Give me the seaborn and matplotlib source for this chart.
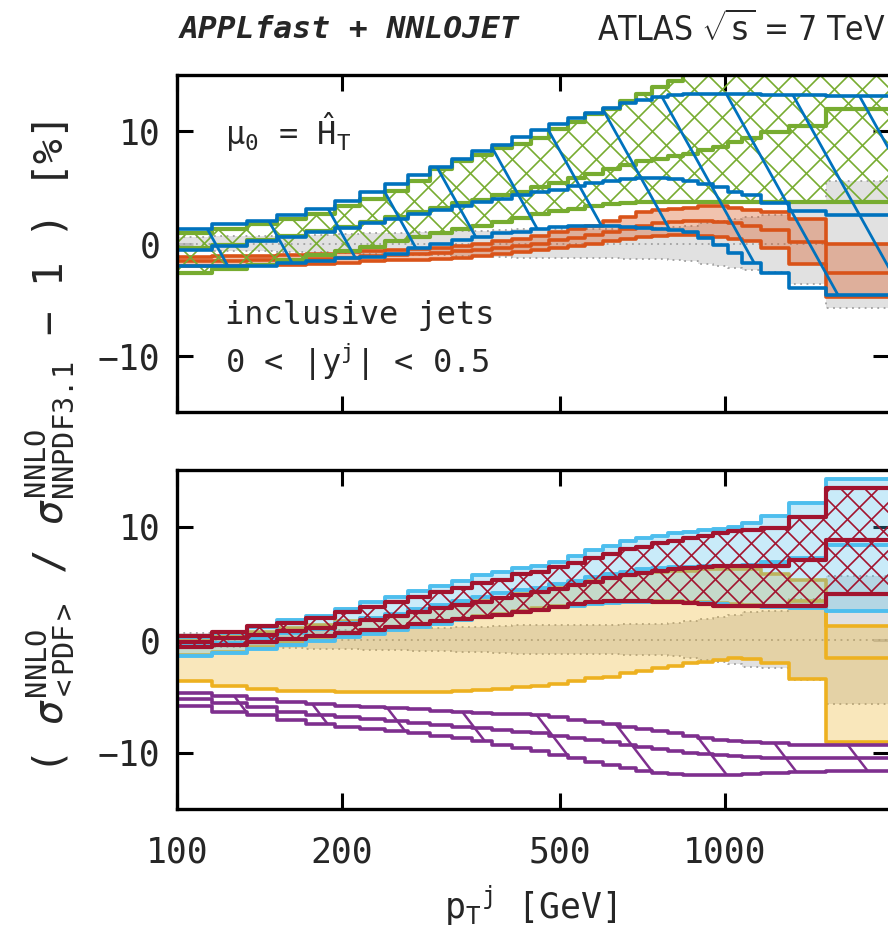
import numpy as np
import matplotlib
matplotlib.use("Agg")
import matplotlib.pyplot as plt
from matplotlib.collections import LineCollection
from matplotlib.ticker import NullLocator, FixedLocator, FixedFormatter
import seaborn as sns

# ---------------- data ----------------
edges = [100, 116, 134, 152, 172, 194, 216, 240, 264, 290, 318, 346, 376, 408, 442,
         478, 516, 556, 598, 642, 688, 736, 786, 838, 894, 952, 1012, 1076, 1162,
         1310, 1530, 1992]

# reference NNPDF3.1 band (both panels)
nnpdf_up = [0.6, 0.65, 0.7, 0.75, 0.8, 0.85, 0.9, 0.95, 1.0, 1.05, 1.1, 1.15, 1.2, 1.25, 1.3,
            1.3, 1.3, 1.3, 1.3, 1.35, 1.35, 1.4, 1.45, 1.6, 1.8, 2.0, 2.2, 2.4, 2.5, 3.6, 5.6]
nnpdf_dn = [-0.6, -0.65, -0.7, -0.75, -0.8, -0.85, -0.9, -0.95, -1.0, -1.05, -1.1, -1.15, -1.2,
            -1.25, -1.3, -1.3, -1.3, -1.3, -1.3, -1.35, -1.35, -1.4, -1.45, -1.6, -1.8, -2.0,
            -2.2, -2.4, -2.5, -3.6, -5.7]
nnpdf_mid = [0.0] * 31

# top panel
top_orange_up = [-1.2, -1.15, -1.1, -1.0, -0.9, -0.8, -0.7, -0.6, -0.5, -0.4, -0.2, 0.0, 0.2, 0.4,
                 0.7, 1.0, 1.3, 1.6, 2.0, 2.4, 2.8, 3.0, 3.1, 3.2, 3.3, 3.3, 3.2, 3.0, 2.8, 2.2, 0.0]
top_orange_mid = [-1.6, -1.55, -1.5, -1.45, -1.35, -1.25, -1.15, -1.05, -0.95, -0.85, -0.7, -0.55,
                  -0.4, -0.2, 0.0, 0.3, 0.5, 0.8, 1.0, 1.3, 1.6, 1.8, 1.9, 2.0, 2.0, 1.9, 1.8, 1.6,
                  1.2, 0.1, -2.6]
top_orange_dn = [-2.0, -2.0, -1.95, -1.9, -1.8, -1.7, -1.6, -1.5, -1.45, -1.35, -1.25, -1.1, -0.95,
                 -0.8, -0.6, -0.4, -0.2, 0.0, 0.2, 0.4, 0.6, 0.7, 0.75, 0.75, 0.7, 0.6, 0.4, 0.2,
                 -0.4, -1.8, -4.8]

top_blue_up = [1.3, 1.7, 2.0, 2.5, 3.1, 3.8, 4.6, 5.3, 6.1, 6.8, 7.5, 8.2, 8.8, 9.5, 10.1, 10.6,
               11.2, 11.6, 12.1, 12.5, 12.8, 13.0, 13.2, 13.3, 13.35, 13.35, 13.3, 13.3, 13.2,
               13.2, 13.1]
top_blue_mid = [-0.6, -0.2, 0.2, 0.6, 1.0, 1.4, 1.8, 2.2, 2.6, 3.0, 3.3, 3.7, 4.0, 4.3, 4.6, 4.8,
                5.1, 5.4, 5.6, 5.7, 5.8, 5.8, 5.7, 5.6, 5.3, 5.0, 4.6, 4.3, 3.6, 2.9, 2.5]
top_blue_dn = [-2.0, -2.0, -2.0, -1.7, -1.6, -1.3, -1.2, -0.9, -0.4, 0.0, 0.3, 0.6, 0.9, 1.05, 1.3,
               1.5, 1.55, 1.6, 1.6, 1.5, 1.4, 1.3, 1.2, 1.05, 0.5, -0.1, -0.85, -1.7, -2.6, -3.95,
               -4.6]

top_green_up = [0.9, 1.3, 1.7, 2.2, 2.6, 3.3, 4.0, 4.7, 5.6, 6.6, 7.3, 7.9, 8.5, 8.9, 9.4, 10.2,
                10.8, 11.5, 12.0, 12.7, 13.3, 13.9, 14.5, 15.3, 15.8, 16.2, 16.5, 16.8, 17.0,
                17.0, 17.0]
top_green_mid = [-0.4, -0.1, 0.3, 0.7, 1.1, 1.5, 1.9, 2.4, 2.8, 3.2, 3.6, 3.9, 4.3, 4.6, 5.0, 5.4,
                 5.8, 6.2, 6.6, 7.0, 7.3, 7.5, 7.8, 8.0, 8.3, 8.6, 9.0, 9.4, 9.9, 10.5, 12.0]
top_green_dn = [-2.6, -2.3, -1.9, -1.5, -1.0, -0.7, -0.3, 0.2, 0.6, 0.9, 1.3, 1.6, 1.9, 2.3, 2.6,
                2.9, 3.1, 3.3, 3.5, 3.6, 3.7, 3.7, 3.7, 3.7, 3.7, 3.7, 3.7, 3.7, 3.7, 3.7, 3.7]

# bottom panel
bot_gold_up = [0.1, 0.4, 0.7, 1.0, 1.3, 1.6, 1.9, 2.2, 2.5, 2.8, 3.1, 3.4, 3.7, 4.0, 4.4, 4.8, 5.1,
               5.4, 5.6, 5.8, 5.9, 6.0, 6.1, 6.1, 6.2, 6.2, 6.2, 6.2, 5.8, 5.3, 1.2]
bot_gold_mid = [-1.4, -1.1, -0.7, -0.35, -0.05, 0.3, 0.6, 0.9, 1.2, 1.5, 1.8, 2.05, 2.3, 2.55,
                2.75, 2.95, 3.1, 3.25, 3.35, 3.4, 3.45, 3.45, 3.4, 3.35, 3.3, 3.2, 3.1, 3.05, 3.0,
                3.4, -1.6]
bot_gold_dn = [-3.7, -4.1, -4.4, -4.55, -4.6, -4.65, -4.65, -4.65, -4.65, -4.65, -4.6, -4.5, -4.4,
               -4.2, -4.1, -3.9, -3.7, -3.45, -3.3, -3.0, -2.8, -2.5, -2.35, -2.05, -1.95, -1.8,
               -1.6, -1.7, -2.05, -3.5, -9.1]

bot_cyan_up = [0.2, 0.6, 1.1, 1.7, 2.1, 2.7, 3.3, 3.8, 4.3, 4.7, 5.2, 5.7, 6.0, 6.3, 6.5, 6.9, 7.4,
               7.9, 8.3, 8.7, 9.0, 9.2, 9.4, 9.55, 9.7, 9.8, 10.0, 10.35, 10.9, 12.1, 14.2]
bot_cyan_mid = [-0.6, -0.3, 0.1, 0.6, 0.95, 1.45, 1.9, 2.3, 2.7, 3.05, 3.45, 3.8, 4.1, 4.4, 4.6,
                4.9, 5.2, 5.5, 5.8, 6.0, 6.2, 6.3, 6.4, 6.4, 6.5, 6.5, 6.5, 6.6, 6.9, 7.25, 8.4]
bot_cyan_dn = [-1.5, -1.2, -0.8, -0.45, -0.15, 0.2, 0.5, 0.8, 1.1, 1.4, 1.7, 1.95, 2.2, 2.45, 2.65,
               2.85, 3.0, 3.15, 3.25, 3.3, 3.35, 3.35, 3.3, 3.25, 3.2, 3.1, 3.0, 2.95, 2.9, 2.8, 2.5]

bot_red_up = [0.35, 0.7, 1.2, 1.5, 1.9, 2.4, 2.9, 3.3, 3.8, 4.2, 4.6, 5.0, 5.3, 5.8, 6.0, 6.4, 6.8,
              7.2, 7.6, 8.0, 8.2, 8.5, 8.7, 9.0, 9.2, 9.4, 9.6, 9.7, 9.9, 10.8, 13.45]
bot_red_mid = [-0.2, 0.1, 0.4, 0.75, 1.05, 1.4, 1.75, 2.1, 2.4, 2.75, 3.05, 3.35, 3.65, 3.95, 4.2,
               4.5, 4.8, 5.1, 5.4, 5.7, 5.9, 6.05, 6.2, 6.3, 6.4, 6.5, 6.5, 6.5, 6.5, 7.0, 8.8]
bot_red_dn = [-0.7, -0.5, -0.2, 0.05, 0.3, 0.6, 0.85, 1.1, 1.35, 1.6, 1.8, 2.0, 2.2, 2.45, 2.65,
              2.9, 3.1, 3.3, 3.4, 3.4, 3.4, 3.35, 3.3, 3.2, 3.1, 3.0, 3.0, 3.0, 2.95, 3.0, 4.0]

bot_purple_up = [-4.7, -5.0, -5.3, -5.5, -5.7, -5.85, -5.95, -6.05, -6.15, -6.3, -6.4, -6.5, -6.55,
                 -6.6, -6.7, -6.9, -7.1, -7.3, -7.5, -7.7, -7.9, -8.1, -8.3, -8.5, -8.7, -8.85,
                 -9.0, -9.1, -9.2, -9.3, -9.3]
bot_purple_mid = [-5.3, -5.6, -6.0, -6.4, -6.7, -6.9, -7.05, -7.2, -7.35, -7.55, -7.7, -7.85, -8.0,
                  -8.15, -8.3, -8.5, -8.7, -8.9, -9.1, -9.3, -9.5, -9.7, -9.85, -10.0, -10.15,
                  -10.25, -10.35, -10.4, -10.45, -10.45, -10.45]
bot_purple_dn = [-5.9, -6.4, -6.7, -7.1, -7.5, -7.7, -7.9, -8.1, -8.3, -8.5, -8.7, -9.0, -9.3,
                 -9.6, -9.9, -10.2, -10.5, -10.8, -11.1, -11.35, -11.6, -11.8, -11.9, -11.95,
                 -11.95, -11.95, -11.95, -11.9, -11.85, -11.7, -11.65]

xticks = [100, 200, 500, 1000]
xtick_labels = ["100", "200", "500", "1000"]
yticks = [-10, 0, 10]

# ---------------- style ----------------
C_BLUE, C_ORANGE, C_GOLD = "#0072BD", "#D95319", "#EDB120"
C_PURPLE, C_GREEN, C_CYAN, C_RED = "#7E2F8E", "#77AC30", "#4DBEEE", "#A2142F"
C_GRAYFILL, C_GRAYLINE = "#dcdcdc", "#a0a0a0"

sns.set_style("ticks")
plt.rcParams["font.family"] = ["DejaVu Sans Mono", "DejaVu Sans"]
plt.rcParams["mathtext.fontset"] = "custom"
plt.rcParams["mathtext.rm"] = "DejaVu Sans Mono"
plt.rcParams["mathtext.it"] = "DejaVu Sans Mono:italic"
plt.rcParams["mathtext.bf"] = "DejaVu Sans Mono:bold"
plt.rcParams["mathtext.sf"] = "DejaVu Sans Mono"
plt.rcParams["axes.unicode_minus"] = True

fig = plt.figure(figsize=(8.88, 9.40), dpi=100)
W_PX, H_PX = 888.0, 940.0
ax_top = fig.add_axes([177 / W_PX, 1 - 412 / H_PX, 712 / W_PX, 337 / H_PX])
ax_bot = fig.add_axes([177 / W_PX, 1 - 809 / H_PX, 712 / W_PX, 339 / H_PX])


def step_line(ax, vals, color, lw, ls="-", z=3):
    y = list(vals) + [vals[-1]]
    sns.lineplot(x=edges, y=y, ax=ax, color=color, linewidth=lw, linestyle=ls,
                 drawstyle="steps-post", estimator=None, sort=False, zorder=z)


def band_patch(ax, lo, hi, z=1, **kw):
    return ax.stairs(hi, edges, baseline=lo, fill=True, zorder=z, **kw)


def add_hatch(ax, clip, slope, spacing, color, lw, directions, z=2):
    bb = ax.get_position()
    W = bb.width * W_PX
    H = bb.height * H_PX
    du = spacing / W
    dx = H / (slope * W)
    segs = []
    for d in directions:
        for u in np.arange(-dx - du, 1 + du, du):
            if d == "\\":
                segs.append([(u, 1.0), (u + dx, 0.0)])
            else:
                segs.append([(u, 0.0), (u + dx, 1.0)])
    lc = LineCollection(segs, colors=color, linewidths=lw, transform=ax.transAxes, zorder=z)
    ax.add_collection(lc, autolim=False)
    lc.set_clip_path(clip)
    lc.set_clip_box(ax.bbox)


for ax in (ax_top, ax_bot):
    ax.set_xscale("log")
    ax.set_xlim(100, 1992)
    ax.set_ylim(-15, 15)

# ---- top panel ----
ax = ax_top
band_patch(ax, nnpdf_dn, nnpdf_up, z=1, color=C_GRAYFILL, alpha=0.85, linewidth=0)
for v in (nnpdf_up, nnpdf_mid, nnpdf_dn):
    step_line(ax, v, C_GRAYLINE, 1.3, ls=(0, (1, 2.5)), z=1.5)
band_patch(ax, top_orange_dn, top_orange_up, z=1.6, color=C_ORANGE, alpha=0.35, linewidth=0)
for v in (top_orange_up, top_orange_mid, top_orange_dn):
    step_line(ax, v, C_ORANGE, 2.6, z=1.7)
gp = band_patch(ax, top_green_dn, top_green_up, z=1.8, facecolor="none", edgecolor="none")
add_hatch(ax, gp, 1.0, 28, C_GREEN, 1.2, ["\\", "/"], z=1.9)
for v in (top_green_up, top_green_mid, top_green_dn):
    step_line(ax, v, C_GREEN, 3.0, z=2.0)
bp = band_patch(ax, top_blue_dn, top_blue_up, z=2.1, facecolor="none", edgecolor="none")
add_hatch(ax, bp, 1.8, 66, C_BLUE, 2.0, ["\\"], z=2.2)
for v in (top_blue_up, top_blue_mid, top_blue_dn):
    step_line(ax, v, C_BLUE, 2.6, z=2.3)

ax.text(0.067, 0.83, "\u03bc$_{\\rm 0}$ = $\\hat{\\rm H}_{\\rm T}$", transform=ax.transAxes,
        fontsize=23, va="center", ha="left")
ax.text(0.067, 0.285, "inclusive jets", transform=ax.transAxes, fontsize=23,
        va="center", ha="left")
ax.text(0.067, 0.148, r"0 < |y$^{\rm j}$| < 0.5", transform=ax.transAxes, fontsize=23,
        va="center", ha="left")

# ---- bottom panel ----
ax = ax_bot
band_patch(ax, nnpdf_dn, nnpdf_up, z=1, color=C_GRAYFILL, alpha=0.85, linewidth=0)
for v in (nnpdf_up, nnpdf_mid, nnpdf_dn):
    step_line(ax, v, C_GRAYLINE, 1.3, ls=(0, (1, 2.5)), z=1.5)
band_patch(ax, bot_gold_dn, bot_gold_up, z=1.6, color=C_GOLD, alpha=0.3, linewidth=0)
for v in (bot_gold_up, bot_gold_mid, bot_gold_dn):
    step_line(ax, v, C_GOLD, 2.6, z=1.7)
band_patch(ax, bot_cyan_dn, bot_cyan_up, z=1.8, color=C_CYAN, alpha=0.3, linewidth=0)
for v in (bot_cyan_up, bot_cyan_mid, bot_cyan_dn):
    step_line(ax, v, C_CYAN, 2.8, z=1.9)
rp = band_patch(ax, bot_red_dn, bot_red_up, z=2.0, facecolor="none", edgecolor="none")
add_hatch(ax, rp, 1.0, 24, C_RED, 1.2, ["\\", "/"], z=2.1)
for v in (bot_red_up, bot_red_mid, bot_red_dn):
    step_line(ax, v, C_RED, 3.0, z=2.2)
pp = band_patch(ax, bot_purple_dn, bot_purple_up, z=2.3, facecolor="none", edgecolor="none")
add_hatch(ax, pp, 1.3, 72, C_PURPLE, 1.8, ["\\"], z=2.4)
for v in (bot_purple_up, bot_purple_mid, bot_purple_dn):
    step_line(ax, v, C_PURPLE, 2.6, z=2.5)

# ---- axes cosmetics ----
for ax in (ax_top, ax_bot):
    ax.set_axisbelow(True)
    ax.xaxis.set_major_locator(FixedLocator(xticks))
    ax.xaxis.set_minor_locator(NullLocator())
    ax.yaxis.set_major_locator(FixedLocator(yticks))
    ax.yaxis.set_minor_locator(NullLocator())
    ax.tick_params(axis="both", which="major", direction="in", length=11.5, width=2.2,
                   top=True, right=True, labelsize=25, color="black")
    ax.tick_params(axis="y", pad=12)
    ax.tick_params(axis="x", pad=19)
    for s in ax.spines.values():
        s.set_linewidth(2.4)
        s.set_color("black")
    ax.set_xlabel("")
    ax.set_ylabel("")
    ax.set_yticklabels(["\u221210", "0", "10"])

ax_top.set_xticklabels([])
ax_bot.xaxis.set_major_formatter(FixedFormatter(xtick_labels))

fig.text(530 / W_PX, 1 - 906 / H_PX, r"p$_{\rm T}{}^{\rm j}$ [GeV]", fontsize=25,
         ha="center", va="center")
fig.text(50 / W_PX, 1 - 448 / H_PX,
         r"( $\sigma^{\rm NNLO}_{\rm <PDF>}$ / $\sigma^{\rm NNLO}_{\rm NNPDF3.1}$ $-$ 1 ) [%]",
         fontsize=29.5, rotation=90, ha="center", va="center")
fig.text(180 / W_PX, 1 - 30 / H_PX, "APPLfast + NNLOJET", fontsize=22.5, fontweight="bold",
         fontstyle="italic", ha="left", va="center")
fig.text(885 / W_PX, 1 - 30 / H_PX, r"ATLAS $\sqrt{\rm s}$ = 7 TeV", fontsize=24,
         family="DejaVu Sans", fontstretch="condensed", ha="right", va="center")

fig.savefig("out.png", dpi=100)
